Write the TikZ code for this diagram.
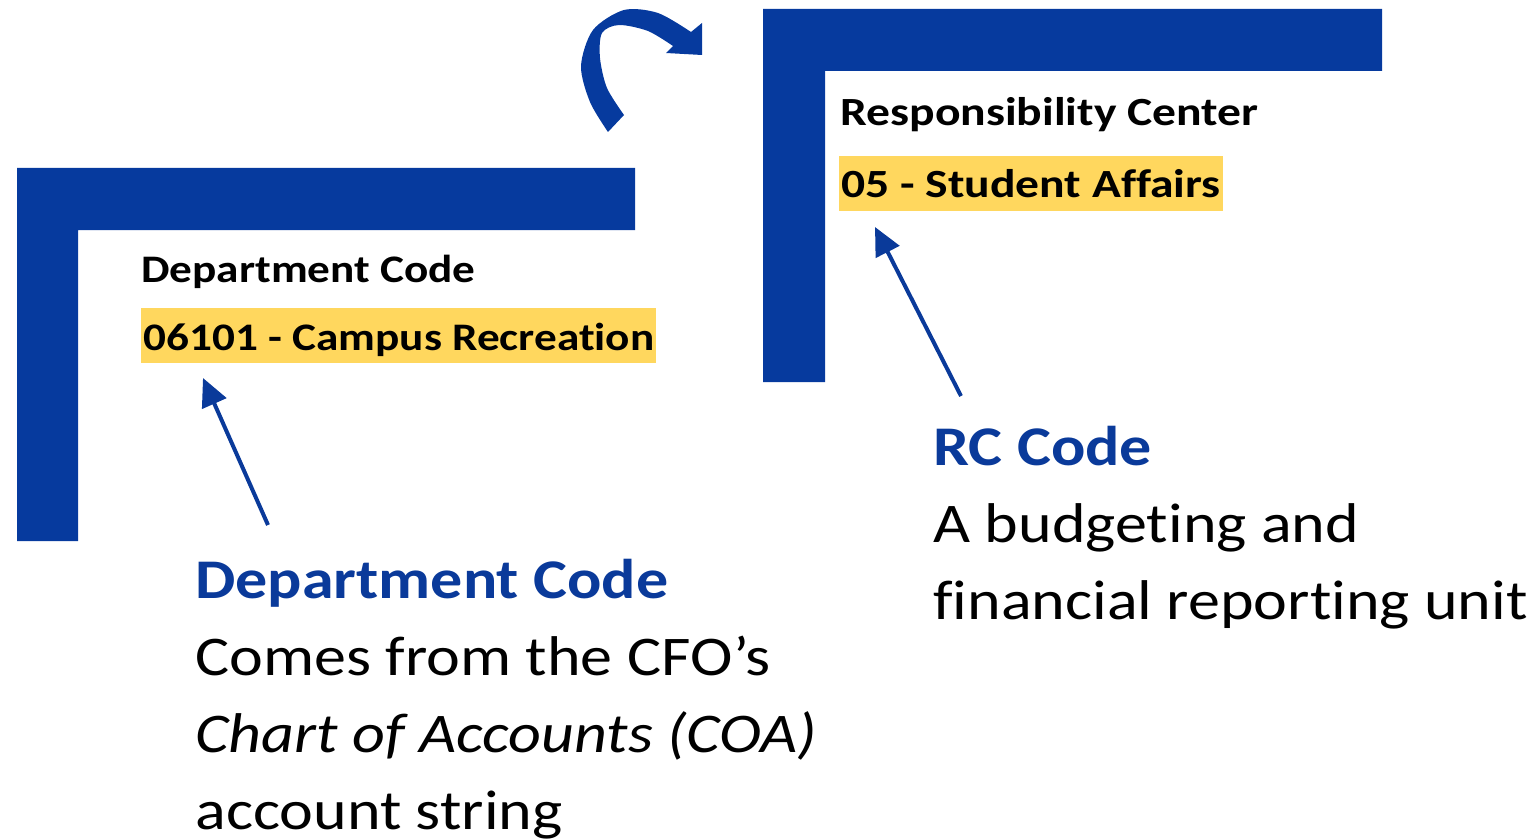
\documentclass[tikz,border=0pt]{standalone}
\usepackage{fontspec}
\setmainfont{Carlito}[Ligatures=CommonOff]
\usetikzlibrary{arrows.meta}
\definecolor{bbar}{RGB}{6,58,158}
\definecolor{btext}{RGB}{10,58,154}
\definecolor{hl}{RGB}{255,215,94}
\newcommand{\sxl}[1]{\scalebox{1.16}[1]{#1}}
\newcommand{\sxr}[1]{\scalebox{1.19}[1]{#1}}
\newcommand{\sxb}[1]{\scalebox{1.143}[1]{#1}}
\tikzset{
  bar/.style={fill=bbar, draw=none},
  smalll/.style={font=\fontsize{19.5pt}{23pt}\selectfont\bfseries, anchor=base west, inner sep=0pt},
  smallr/.style={font=\fontsize{20pt}{24pt}\selectfont\bfseries, anchor=base west, inner sep=0pt},
  hlbox/.style={fill=hl, inner xsep=1pt, text height=21pt, text depth=6.5pt},
  big/.style={font=\fontsize{28pt}{38.5pt}\selectfont, anchor=base west, inner sep=0pt},
  bighead/.style={big, font=\fontsize{28pt}{38.5pt}\selectfont\bfseries, text=btext},
  pointer/.style={draw=btext, line width=2pt, -{Triangle[length=14pt,width=13pt]}},
}
\begin{document}
\begin{tikzpicture}[x=0.5pt,y=-0.5pt]
\useasboundingbox (0,0) rectangle (1538,840);
% left L
\fill[bar] (17,168) -- (635,168) -- (635,230) -- (78,230) -- (78,541) -- (17,541) -- cycle;
% right L
\fill[bar] (763,9) -- (1382,9) -- (1382,71) -- (825,71) -- (825,382) -- (763,382) -- cycle;
% curved arrow
\fill[bbar] plot[smooth] coordinates {(608,132) (590,102) (581,66) (593,30) (624,10) (658,13) (691,32)}
  -- (702,23) -- (702,55) -- (666,53)
  -- plot[smooth] coordinates {(673,46) (648,31) (619,25) (602,33) (600,58) (607,88) (624,115)} -- cycle;
% left texts
\node[smalll] (dclab) at (141,282) {\sxl{Department Code}};
\node[smalll, hlbox] (dcval) at (141,350) {\sxl{06101 - Campus Recreation}};
% right texts
\node[smallr] (rclab) at (840,126) {\sxr{Responsibility Center}};
\node[smallr, hlbox] (rcval) at (839,198) {\sxr{05 - Student Affairs}};
% descriptions
\node[bighead] (dchead) at (195,598) {\sxb{Department Code}};
\node[big] (dc1) at (195,675) {\sxb{Comes from the CFO’s}};
\node[big] (dc2) at (195,752) {\sxb{\itshape Chart of Accounts (COA)}};
\node[big] (dc3) at (195,829) {\sxb{account string}};
\node[bighead] (rchead) at (933,465) {\sxb{RC Code}};
\node[big] (rc1) at (933,542) {\sxb{A budgeting and}};
\node[big] (rc2) at (933,619) {\sxb{financial reporting unit}};
% pointers
\coordinate (p1s) at (268,525);
\coordinate (p1e) at (203,378);
\coordinate (p2s) at (961,396);
\coordinate (p2e) at (875,227);
\draw[pointer] (p1s) -- (p1e);
\draw[pointer] (p2s) -- (p2e);
\end{tikzpicture}
\end{document}
